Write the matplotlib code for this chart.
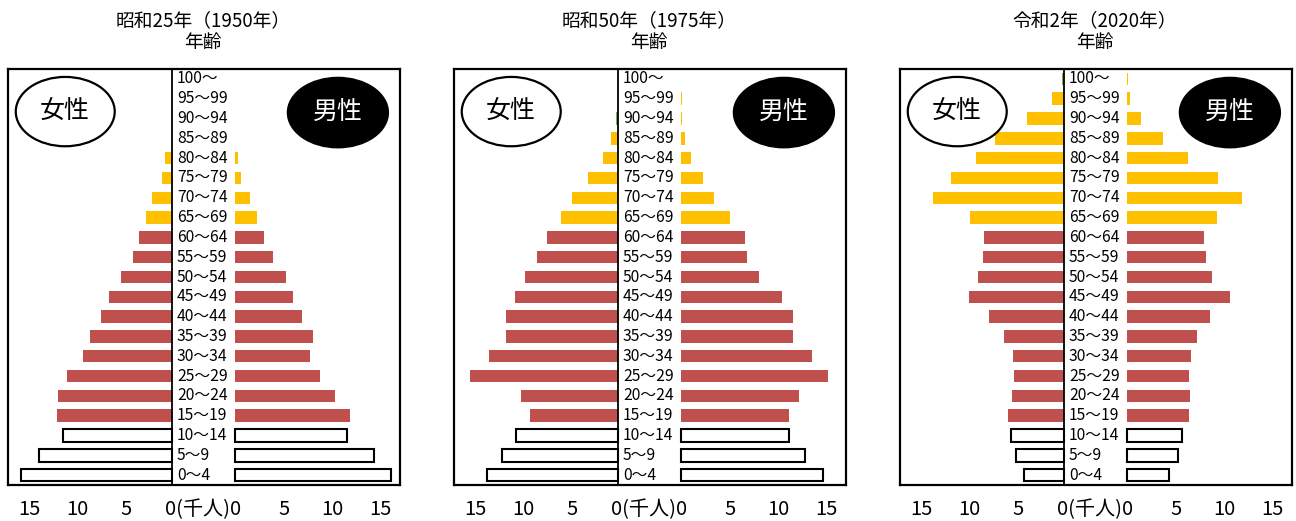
import matplotlib
matplotlib.use("Agg")
import matplotlib.pyplot as plt
from matplotlib.patches import Ellipse

plt.rcParams['font.family'] = ['Noto Sans CJK JP', 'DejaVu Sans']

# Age groups, bottom to top
ages = ['0～4', '5～9', '10～14', '15～19', '20～24', '25～29', '30～34', '35～39',
        '40～44', '45～49', '50～54', '55～59', '60～64', '65～69', '70～74',
        '75～79', '80～84', '85～89', '90～94', '95～99', '100～']

titles = ['昭和25年（1950年）', '昭和50年（1975年）', '令和2年（2020年）']

# Population in thousands
female_1950 = [15.6, 13.7, 11.2, 11.8, 11.7, 10.8, 9.2, 8.5, 7.3, 6.5, 5.3,
               4.0, 3.4, 2.7, 2.1, 1.0, 0.75, 0, 0, 0, 0]
male_1950 = [16.1, 14.3, 11.5, 11.8, 10.3, 8.8, 7.7, 8.0, 6.9, 6.0, 5.3,
             3.9, 3.0, 2.3, 1.5, 0.6, 0.35, 0, 0, 0, 0]
female_1975 = [13.5, 12.0, 10.5, 9.1, 10.0, 15.2, 13.3, 11.5, 11.5, 10.6, 9.6,
               8.3, 7.3, 5.9, 4.7, 3.1, 1.5, 0.7, 0.2, 0, 0]
male_1975 = [14.6, 12.8, 11.1, 11.1, 12.2, 15.1, 13.5, 11.5, 11.5, 10.4, 8.0,
             6.8, 6.6, 5.0, 3.4, 2.3, 1.0, 0.45, 0.1, 0.1, 0]
female_2020 = [4.1, 4.9, 5.5, 5.8, 5.4, 5.1, 5.3, 6.2, 7.7, 9.8, 8.9,
               8.3, 8.2, 9.7, 13.5, 11.6, 9.1, 7.1, 3.8, 1.2, 0.2]
male_2020 = [4.3, 5.3, 5.7, 6.4, 6.5, 6.4, 6.6, 7.2, 8.5, 10.6, 8.8,
             8.1, 7.9, 9.3, 11.8, 9.4, 6.3, 3.7, 1.4, 0.3, 0.1]

panels = [(female_1950, male_1950), (female_1975, male_1975), (female_2020, male_2020)]

# a few tiny bars drawn in green in the source
green_bars = {(1, 'f', 18), (2, 'f', 20)}

RED = '#C0504D'
YELLOW = '#FFC000'
GREEN = '#7AAE48'
GAP = 6.5  # space for the age labels between the two halves


def bar_style(i):
    if i <= 2:
        return dict(color='white', edgecolor='black', linewidth=1.5)
    if i <= 12:
        return dict(color=RED, edgecolor='none')
    return dict(color=YELLOW, edgecolor='none')


fig = plt.figure(figsize=(12.96, 5.21), dpi=100)
lefts = [8, 454, 900]

for p, (fem, mal) in enumerate(panels):
    ax = fig.add_axes([lefts[p] / 1296, 36 / 521, 392 / 1296, 416 / 521])
    ax.set_xlim(-16.9, 23.5)
    ax.set_ylim(-0.5, 20.5)
    ax.set_xticks([])
    ax.set_yticks([])
    for s in ax.spines.values():
        s.set_linewidth(1.6)

    for i in range(len(ages)):
        st = bar_style(i)
        if fem[i] > 0:
            kw = dict(st)
            if (p, 'f', i) in green_bars:
                kw['color'] = GREEN
            ax.barh(i, -fem[i], height=0.63, **kw)
        if mal[i] > 0:
            kw = dict(st)
            if (p, 'm', i) in green_bars:
                kw['color'] = GREEN
            ax.barh(i, mal[i], left=GAP, height=0.63, **kw)
        ax.text(0.5, i, ages[i], ha='left', va='center', fontsize=11.3)

    ax.axvline(0, color='black', linewidth=1.3)

    # sex badges
    ax.add_patch(Ellipse((-11.0, 18.35), 10.2, 3.5, facecolor='white',
                         edgecolor='black', linewidth=1.6))
    ax.text(-11.0, 18.35, '女性', ha='center', va='center', fontsize=18)
    ax.add_patch(Ellipse((17.1, 18.3), 10.4, 3.55, facecolor='black',
                         edgecolor='black'))
    ax.text(17.1, 18.3, '男性', ha='center', va='center', fontsize=18, color='white')

    # axis labels under the box
    for v in [15, 10, 5]:
        ax.text(-v + 0.3, -1.75, str(v), ha='center', va='center', fontsize=14.5, clip_on=False)
        ax.text(GAP + v, -1.75, str(v), ha='center', va='center', fontsize=14.5, clip_on=False)
    ax.text(GAP / 2, -1.75, '0(千人)0', ha='center', va='center', fontsize=14.5, clip_on=False)

    ax.text(3.2, 22.95, titles[p], ha='center', va='center', fontsize=13.5, clip_on=False)
    ax.text(3.2, 21.85, '年齢', ha='center', va='center', fontsize=13.5, clip_on=False)

fig.savefig('out.png', dpi=100)
